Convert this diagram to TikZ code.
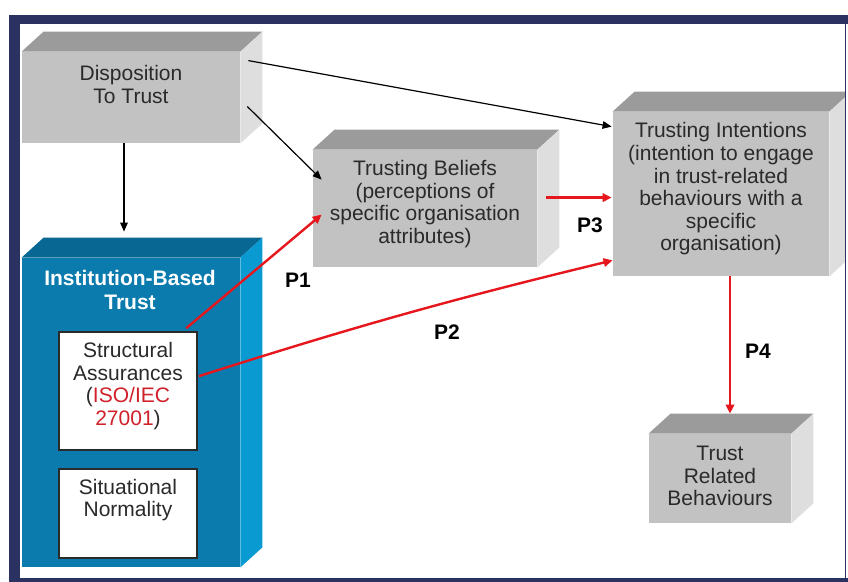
\documentclass[tikz,border=0pt]{standalone}
\usepackage{fontspec}
\setmainfont{Liberation Sans}
\usepackage{xcolor}
\usepackage{tikz}
\usetikzlibrary{calc,arrows.meta}
\definecolor{framecol}{HTML}{2B3161}
\definecolor{gfront}{HTML}{C2C2C2}
\definecolor{gtop}{HTML}{9B9B9B}
\definecolor{gside}{HTML}{DEDEDE}
\definecolor{bfront}{HTML}{0B7BAE}
\definecolor{btop}{HTML}{086893}
\definecolor{bside}{HTML}{0A9AD2}
\definecolor{linkred}{HTML}{E5161C}
\definecolor{isored}{HTML}{D0202A}
\definecolor{ink}{HTML}{2A2A2A}
\tikzset{
  gface/.style={fill=gfront, inner sep=0pt},
  bface/.style={fill=bfront, inner sep=0pt},
  wbox/.style={fill=white, draw=ink, line width=0.8pt, inner sep=0pt},
  txt/.style={text=ink, align=center, font=\fontsize{10.5}{11.3}\selectfont},
  ttl/.style={text=white, align=center, font=\bfseries\fontsize{10.5}{11.8}\selectfont},
  plab/.style={text=black, font=\bfseries\fontsize{10.5}{12}\selectfont},
  blk/.style={draw=black, line width=0.6pt, -{Triangle[length=4.5pt,width=3.8pt]}},
  redarr/.style={draw=linkred, line width=1.2pt, -{Triangle[length=4.5pt,width=4.2pt]}}
}
\def\dx{22}
\def\dy{-20}
% top and right face of a box whose front face is node #1
\newcommand{\boxfaces}[3]{%
  \fill[#2] (#1.north west) -- ++(\dx,\dy) -- ($(#1.north east)+(\dx,\dy)$) -- (#1.north east) -- cycle;
  \fill[#3] (#1.north east) -- ++(\dx,\dy) -- ($(#1.south east)+(\dx,\dy)$) -- (#1.south east) -- cycle;
}
\begin{document}
\begin{tikzpicture}[x=0.5pt,y=-0.5pt]
  \useasboundingbox (0,0) rectangle (848,582);
  \fill[white] (0,0) rectangle (848,582);
  \fill[framecol] (9,15) rectangle (848,582);
  \fill[white] (20,24) rectangle (848,578);

  % front faces
  \node[gface, minimum width=109pt, minimum height=45.5pt] (disp) at (131,97.5) {};
  \node[gface, minimum width=112pt, minimum height=58.5pt] (belief) at (425,208.5) {};
  \node[gface, minimum width=108pt, minimum height=82pt] (intent) at (721,194) {};
  \node[gface, minimum width=71pt, minimum height=44.5pt] (behav) at (720,478.5) {};
  \node[bface, minimum width=109pt, minimum height=154.5pt] (inst) at (131,412.5) {};
  \boxfaces{disp}{gtop}{gside}
  \boxfaces{belief}{gtop}{gside}
  \boxfaces{intent}{gtop}{gside}
  \boxfaces{behav}{gtop}{gside}
  \boxfaces{inst}{btop}{bside}
  \fill[white] (845,24) rectangle (848,578);
  \draw[framecol, line width=0.7pt] (845.5,24) -- (845.5,578);

  \node[wbox, minimum width=69pt, minimum height=59pt] (struct) at (128,391) {};
  \node[wbox, minimum width=69pt, minimum height=44.5pt] (situ) at (128,513.5) {};

  % texts
  \node[txt] (disptxt) at (131,84.5) {Disposition\\To Trust};
  \node[txt] (belieftxt) at (425,204) {Trusting Beliefs\\(perceptions of\\specific organisation\\attributes)};
  \node[txt] (intenttxt) at (721,189) {Trusting Intentions\\(intention to engage\\in trust-related\\behaviours with a\\specific\\organisation)};
  \node[txt] (behavtxt) at (720,476) {Trust\\Related\\Behaviours};
  \node[ttl] (insttxt) at (130,290) {Institution-Based\\Trust};
  \node[txt] (structtxt) at (128,386) {Structural\\Assurances\\({\color{isored}ISO/IEC}\\{\color{isored}27001})};
  \node[txt] (situtxt) at (128,500) {Situational\\Normality};

  % links
  \draw[blk] ($(disp.south)+(-7,0)$) -- ($(inst.north)+(-7,-26)$);
  \draw[blk] ($(disp.north east)+(8,9)$) -- ($(intent.north west)+(-1,15)$);
  \draw[blk] ($(disp.north east)+(7,55)$) -- ($(belief.north west)+(9,30)$);
  \draw[redarr] ($(struct.north west)+(128,-3)$) -- ($(belief.north west)+(9,65)$);
  \draw[redarr] ($(struct.north east)+(1,45)$) to[bend left=2] ($(intent.south west)+(0,-16)$);
  \draw[redarr] ($(belief.north east)+(9,48)$) -- ($(intent.north west)+(-1,86)$);
  \draw[redarr] ($(intent.south)+(9,0)$) -- ($(behav.north)+(10,-20)$);

  \node[plab] (p1) at (298,280) {P1};
  \node[plab] (p2) at (447,332) {P2};
  \node[plab] (p3) at (590,225) {P3};
  \node[plab] (p4) at (758,351) {P4};
\end{tikzpicture}
\end{document}
